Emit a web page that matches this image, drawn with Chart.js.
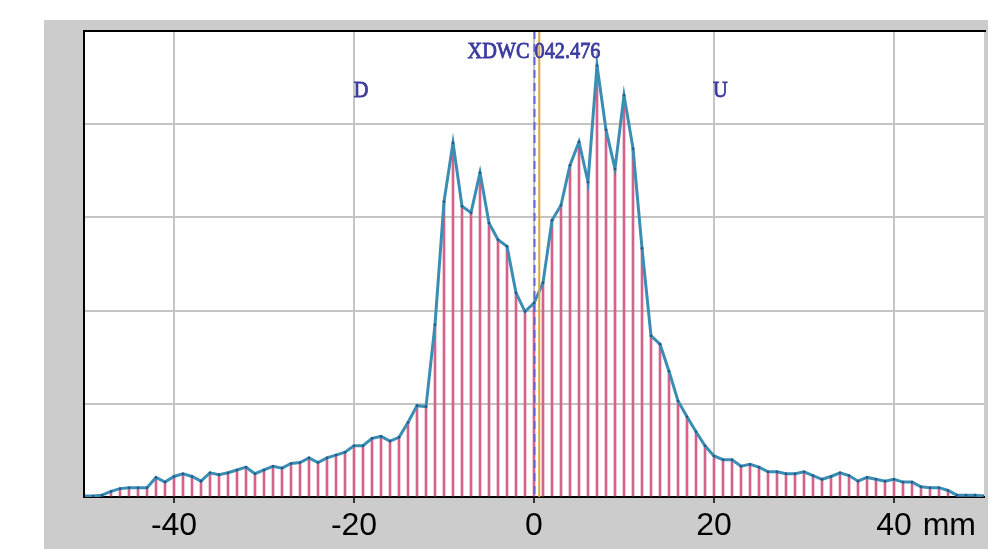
<!DOCTYPE html>
<html>
<head>
<meta charset="utf-8">
<script src="https://cdn.jsdelivr.net/npm/chart.js@4"></script>
<style>
  html, body { margin: 0; padding: 0; background: #fff; }
  #frame { position: absolute; left: 44px; top: 20px; width: 944px; height: 529px; background: #cccccc; }
</style>
</head>
<body>
<div id="frame"><canvas id="profile" width="944" height="529"></canvas></div>
<script>
// profile across the strip, one reading per mm from -50 to 50
const startMm = -50;
const stepMm = 1;
const values = [
  0.01, 0.01, 0.02, 0.06, 0.09, 0.10, 0.10, 0.10, 0.21, 0.16,
  0.22, 0.25, 0.22, 0.17, 0.26, 0.24, 0.26, 0.29, 0.32, 0.25,
  0.29, 0.33, 0.31, 0.36, 0.37, 0.42, 0.37, 0.42, 0.45, 0.48,
  0.55, 0.55, 0.63, 0.65, 0.60, 0.64, 0.80, 0.98, 0.97, 1.85,
  3.17, 3.80, 3.12, 3.05, 3.48, 2.94, 2.76, 2.69, 2.19, 1.99,
  2.08,
  2.30, 2.97, 3.13, 3.56, 3.81, 3.38, 4.63, 3.94, 3.52, 4.31,
  3.74, 2.67, 1.73, 1.64, 1.35, 1.03, 0.86, 0.70, 0.55, 0.44,
  0.40, 0.40, 0.33, 0.35, 0.32, 0.27, 0.27, 0.25, 0.25, 0.27,
  0.23, 0.19, 0.22, 0.26, 0.23, 0.17, 0.21, 0.19, 0.17, 0.19,
  0.16, 0.16, 0.11, 0.10, 0.10, 0.07, 0.02, 0.02, 0.02, 0.01
];
const xTicks = [-40, -20, 0, 20, 40];
const unitLabel = "mm";
const centreLabel = "XDWC 042.476";
const centreValue = 0.476;
const sideLabels = [{ text: "D", x: -19.2 }, { text: "U", x: 20.7 }];

const points = values.map((v, i) => ({ x: startMm + i * stepMm, y: v }));
const tickFont = "32px 'Liberation Sans', Arial";

const frameDecor = {
  id: "frameDecor",
  beforeDraw(chart) {
    const a = chart.chartArea, ctx = chart.ctx;
    ctx.save();
    ctx.fillStyle = "#ffffff";
    ctx.fillRect(a.left, a.top, a.right - a.left, a.bottom - a.top);
    ctx.restore();
  },
  afterDatasetsDraw(chart) {
    const a = chart.chartArea, ctx = chart.ctx, xs = chart.scales.x;
    ctx.save();
    // centre marker lines
    const x0 = Math.round(xs.getPixelForValue(0)) + 0.5;
    ctx.strokeStyle = "#6464d6";
    ctx.lineWidth = 2;
    ctx.setLineDash([8, 5]);
    ctx.beginPath(); ctx.moveTo(x0, a.top); ctx.lineTo(x0, a.bottom); ctx.stroke();
    ctx.setLineDash([]);
    const xc = xs.getPixelForValue(centreValue) + 1;
    ctx.strokeStyle = "#d9a640";
    ctx.beginPath(); ctx.moveTo(xc, a.top); ctx.lineTo(xc, a.bottom); ctx.stroke();

    // labels
    ctx.fillStyle = "#3b3ba0";
    ctx.font = "24px 'Liberation Serif'";
    ctx.textAlign = "center";
    ctx.textBaseline = "alphabetic";
    const sx = 133 / ctx.measureText(centreLabel).width;
    const put = (txt, px, py) => {
      ctx.save(); ctx.translate(px, py); ctx.scale(sx, 1);
      ctx.lineWidth = 0.9; ctx.strokeStyle = "#3b3ba0";
      ctx.fillText(txt, 0, 0); ctx.strokeText(txt, 0, 0);
      ctx.restore();
    };
    put(centreLabel, xs.getPixelForValue(0), a.top + 27);
    sideLabels.forEach(l => put(l.text, xs.getPixelForValue(l.x), a.top + 66));

    // black frame on left and top
    ctx.strokeStyle = "#000";
    ctx.lineWidth = 2;
    ctx.beginPath();
    ctx.moveTo(a.left, a.bottom); ctx.lineTo(a.left, a.top); ctx.lineTo(a.right + 2, a.top);
    ctx.stroke();
    ctx.restore();
  },
  afterDraw(chart) {
    // unit written after the last tick label
    const ctx = chart.ctx, xs = chart.scales.x;
    const last = xTicks[xTicks.length - 1];
    ctx.save();
    ctx.font = tickFont;
    ctx.fillStyle = "#000";
    ctx.textAlign = "left";
    ctx.textBaseline = "middle";
    const half = ctx.measureText(String(last)).width / 2;
    ctx.fillText(" " + unitLabel, xs.getPixelForValue(last) + half + 2, chart.chartArea.bottom + 29);
    ctx.restore();
  }
};

new Chart(document.getElementById("profile"), {
  type: "bar",
  data: {
    datasets: [
      {
        type: "line",
        data: points,
        borderColor: "#3a8db3",
        borderWidth: 3,
        pointRadius: 1.3,
        pointBorderWidth: 0,
        pointBackgroundColor: "#24578a",
        tension: 0,
        order: 0
      },
      {
        type: "bar",
        data: points,
        backgroundColor: "#d6618a",
        barThickness: 2,
        order: 1
      }
    ]
  },
  options: {
    responsive: false,
    animation: false,
    layout: { padding: { left: 40, top: 11, right: 0, bottom: 0 } },
    plugins: { legend: { display: false }, tooltip: { enabled: false } },
    scales: {
      x: {
        type: "linear",
        min: -50,
        max: 50,
        offset: false,
        afterBuildTicks: (s) => { s.ticks = xTicks.map(v => ({ value: v })); },
        grid: { offset: false, color: "#c4c4c4", lineWidth: 2, tickLength: 6, tickColor: "#333", drawTicks: true },
        border: { color: "#000", width: 2 },
        ticks: {
          color: "#000",
          padding: 1,
          maxRotation: 0,
          font: { family: "'Liberation Sans', Arial", size: 32, lineHeight: 1.375 }
        }
      },
      y: {
        min: 0,
        max: 5,
        ticks: { display: false, stepSize: 1 },
        grid: { color: "#c4c4c4", lineWidth: 2, drawTicks: false },
        border: { display: false }
      }
    }
  },
  plugins: [frameDecor]
});
</script>
</body>
</html>
